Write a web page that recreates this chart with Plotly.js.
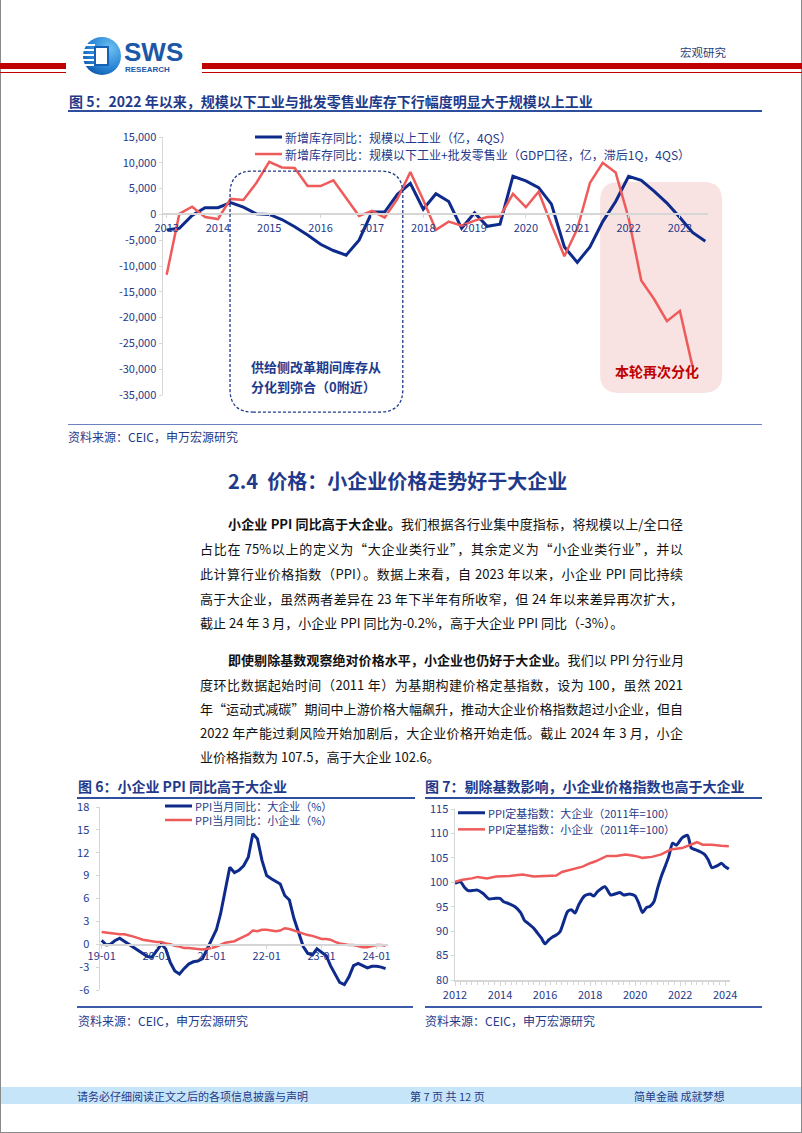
<!DOCTYPE html>
<html><head><meta charset="utf-8">
<script src="https://cdn.plot.ly/plotly-3.0.1.min.js"></script>
<style>
html,body{margin:0;padding:0;background:#fff;}
#page{position:relative;width:802px;height:1133px;overflow:hidden;background:#fff;font-family:'Noto Sans CJK SC','Noto Sans',sans-serif;}
.abs{position:absolute;white-space:nowrap;}
.bar{position:absolute;}
.ttl{position:absolute;white-space:nowrap;font-size:14px;font-weight:bold;color:#1F3A8A;line-height:18px;}
.src{position:absolute;white-space:nowrap;font-size:12px;color:#1F3A8A;line-height:16px;}
.pl{position:absolute;font-size:13px;color:#111;line-height:18px;text-align:justify;text-align-last:justify;}
.pl.last{text-align-last:left;white-space:nowrap;}
.ft{position:absolute;white-space:nowrap;font-size:11px;color:#1F3A8A;line-height:14px;}
.chart{position:absolute;}
</style></head>
<body>
<div id="page">
  <!-- page border -->
  <div class="bar" style="left:0;top:0;width:1px;height:1133px;background:#8a8a8a"></div>
  <div class="bar" style="left:801px;top:0;width:1px;height:1133px;background:#8a8a8a"></div>
  <div class="bar" style="left:0;top:1132px;width:802px;height:1px;background:#8a8a8a"></div>

  <!-- header -->
  <div class="bar" style="left:0;top:63px;width:66px;height:6px;background:#C00000"></div>
  <div class="bar" style="left:0;top:72px;width:66px;height:1px;background:#C00000"></div>
  <div class="bar" style="left:202px;top:63px;width:600px;height:6px;background:#C00000"></div>
  <div class="bar" style="left:202px;top:72px;width:600px;height:1px;background:#C00000"></div>
  <svg style="position:absolute;left:82px;top:35px" width="110" height="42">
    <defs>
      <radialGradient id="lg" cx="0.7" cy="0.3" r="0.85">
        <stop offset="0" stop-color="#6CC0F2"/><stop offset="0.6" stop-color="#2A86D6"/><stop offset="1" stop-color="#0C4FA6"/>
      </radialGradient>
    </defs>
    <circle cx="20" cy="21" r="19" fill="url(#lg)"/>
    <rect x="1" y="9" width="12" height="2" fill="#fff"/>
    <rect x="1" y="14" width="12" height="2" fill="#fff"/>
    <rect x="1" y="19" width="12" height="2" fill="#fff"/>
    <rect x="1" y="24" width="12" height="2" fill="#fff"/>
    <rect x="1" y="29" width="12" height="2" fill="#fff"/>
    <rect x="13" y="12" width="13" height="18" fill="#fff" stroke="#1660B5" stroke-width="2"/>
    <text x="42" y="26" font-size="26" font-weight="bold" fill="#1B58A8" font-family="Liberation Sans, Arial, sans-serif">SWS</text>
    <text x="43" y="37" font-size="8" font-weight="bold" fill="#1B58A8" font-family="Liberation Sans, Arial, sans-serif">RESEARCH</text>
  </svg>
  <div class="abs" style="left:680px;top:45px;font-size:11.5px;color:#2B3F7A;line-height:15px">宏观研究</div>

  <!-- figure 5 -->
  <div class="ttl" style="left:69px;top:92px">图 5：2022 年以来，规模以下工业与批发零售业库存下行幅度明显大于规模以上工业</div>
  <div class="bar" style="left:68px;top:110px;width:694px;height:1.5px;background:#2E4E9E"></div>
  <div id="c5" class="chart" style="left:60px;top:115px;width:690px;height:310px"></div>
  <div class="bar" style="left:68px;top:424px;width:694px;height:1px;background:#6C82C0"></div>
  <div class="src" style="left:68px;top:429px">资料来源：CEIC，申万宏源研究</div>

  <!-- section -->
  <div class="abs" style="left:228px;top:469px;font-size:20px;font-weight:bold;color:#1F3A8A;line-height:24px">2.4&nbsp;&nbsp;价格：小企业价格走势好于大企业</div>

  <div class="pl" style="left:228px;top:515px;width:455px"><b>小企业 PPI 同比高于大企业。</b>我们根据各行业集中度指标，将规模以上/全口径</div>
  <div class="pl" style="left:200px;top:540px;width:483px">占比在 75%以上的定义为“大企业类行业”，其余定义为“小企业类行业”，并以</div>
  <div class="pl" style="left:200px;top:565px;width:483px">此计算行业价格指数（PPI）。数据上来看，自 2023 年以来，小企业 PPI 同比持续</div>
  <div class="pl" style="left:200px;top:590px;width:483px">高于大企业，虽然两者差异在 23 年下半年有所收窄，但 24 年以来差异再次扩大，</div>
  <div class="pl last" style="left:200px;top:614px;width:483px">截止 24 年 3 月，小企业 PPI 同比为-0.2%，高于大企业 PPI 同比（-3%）。</div>

  <div class="pl" style="left:228px;top:651px;width:456px;letter-spacing:-0.3px"><b>即使剔除基数观察绝对价格水平，小企业也仍好于大企业。</b>我们以 PPI 分行业月</div>
  <div class="pl" style="left:200px;top:676px;width:483px">度环比数据起始时间（2011 年）为基期构建价格定基指数，设为 100，虽然 2021</div>
  <div class="pl" style="left:200px;top:700px;width:483px">年“运动式减碳”期间中上游价格大幅飙升，推动大企业价格指数超过小企业，但自</div>
  <div class="pl" style="left:200px;top:724px;width:483px">2022 年产能过剩风险开始加剧后，大企业价格开始走低。截止 2024 年 3 月，小企</div>
  <div class="pl last" style="left:200px;top:748px;width:483px">业价格指数为 107.5，高于大企业 102.6。</div>

  <!-- figure 6 -->
  <div class="ttl" style="left:78px;top:777px">图 6：小企业 PPI 同比高于大企业</div>
  <div class="bar" style="left:77px;top:797px;width:338px;height:1.5px;background:#2E4E9E"></div>
  <div id="c6" class="chart" style="left:60px;top:795px;width:340px;height:210px"></div>
  <div class="bar" style="left:77px;top:1006px;width:336px;height:1.5px;background:#3D5BA9"></div>
  <div class="src" style="left:78px;top:1013px">资料来源：CEIC，申万宏源研究</div>

  <!-- figure 7 -->
  <div class="ttl" style="left:425px;top:777px">图 7：剔除基数影响，小企业价格指数也高于大企业</div>
  <div class="bar" style="left:425px;top:797px;width:337px;height:1.5px;background:#2E4E9E"></div>
  <div id="c7" class="chart" style="left:410px;top:795px;width:350px;height:210px"></div>
  <div class="bar" style="left:425px;top:1006px;width:337px;height:1.5px;background:#3D5BA9"></div>
  <div class="src" style="left:425px;top:1013px">资料来源：CEIC，申万宏源研究</div>

  <!-- footer -->
  <div class="bar" style="left:1px;top:1087px;width:800px;height:17px;background:#C7E5F8"></div>
  <div class="ft" style="left:77px;top:1089px">请务必仔细阅读正文之后的各项信息披露与声明</div>
  <div class="ft" style="left:410px;top:1089px">第 7 页 共 12 页</div>
  <div class="ft" style="left:634px;top:1089px">简单金融 成就梦想</div>
</div>

<script>
// ---------------- Figure 5 data (quarterly, 4QS) ----------------
const c5Quarters = ['2013-01-01','2013-04-01','2013-07-01','2013-10-01',
  '2014-01-01','2014-04-01','2014-07-01','2014-10-01',
  '2015-01-01','2015-04-01','2015-07-01','2015-10-01',
  '2016-01-01','2016-04-01','2016-07-01','2016-10-01',
  '2017-01-01','2017-04-01','2017-07-01','2017-10-01',
  '2018-01-01','2018-04-01','2018-07-01','2018-10-01',
  '2019-01-01','2019-04-01','2019-07-01','2019-10-01',
  '2020-01-01','2020-04-01','2020-07-01','2020-10-01',
  '2021-01-01','2021-04-01','2021-07-01','2021-10-01',
  '2022-01-01','2022-04-01','2022-07-01','2022-10-01',
  '2023-01-01','2023-04-01','2023-07-01'];
const c5AboveScale = [-3000,-2700,-200,1300,
  1300,2300,1400,100,
  0,-1000,-2400,-4000,
  -5800,-7000,-7900,-5000,
  450,450,3900,6000,
  1000,4000,2500,-2700,
  300,-2300,-1900,7400,
  6500,5200,2000,-6300,
  -9300,-6300,-1400,2500,
  7400,6600,4500,2200,
  -600,-3500,-5200];
const c5BelowScale = [-11700,100,1500,-500,
  -900,3000,2800,6100,
  10200,9100,9000,5500,
  5500,6600,3200,-300,
  700,-600,3000,8200,
  2800,-3000,-1400,-2200,
  -1200,-500,-400,4000,
  1400,4400,-2000,-8100,
  -2800,6100,10000,8100,
  -700,-12800,-16400,-20700,
  -18700,-29500];
const c5Names = ['新增库存同比：规模以上工业（亿，4QS）','新增库存同比：规模以下工业+批发零售业（GDP口径，亿，滞后1Q，4QS）'];
const c5YTickVals = [15000,10000,5000,0,-5000,-10000,-15000,-20000,-25000,-30000,-35000];
const c5YTickText = ['15,000','10,000','5,000','0','-5,000','-10,000','-15,000','-20,000','-25,000','-30,000','-35,000'];

// ---------------- Figure 6 data (monthly YoY %) ----------------
const c6Months = ['2019-01','2019-02','2019-03','2019-04','2019-05','2019-06','2019-07','2019-08','2019-09','2019-10','2019-11','2019-12',
  '2020-01','2020-02','2020-03','2020-04','2020-05','2020-06','2020-07','2020-08','2020-09','2020-10','2020-11','2020-12',
  '2021-01','2021-02','2021-03','2021-04','2021-05','2021-06','2021-07','2021-08','2021-09','2021-10','2021-11','2021-12',
  '2022-01','2022-02','2022-03','2022-04','2022-05','2022-06','2022-07','2022-08','2022-09','2022-10','2022-11','2022-12',
  '2023-01','2023-02','2023-03','2023-04','2023-05','2023-06','2023-07','2023-08','2023-09','2023-10','2023-11','2023-12',
  '2024-01','2024-02','2024-03'];
const c6Large = [0.5,-0.1,0.0,0.5,0.8,0.4,0.0,-0.4,-0.8,-1.2,-1.6,-1.7,
  -0.8,0.0,-0.6,-2.4,-3.5,-3.9,-3.2,-2.6,-2.3,-2.2,-1.9,-0.6,
  0.6,1.9,4.0,7.0,10.1,9.4,9.7,10.3,11.4,14.5,13.8,11.0,
  9.0,8.6,8.3,7.9,6.4,5.8,3.4,1.4,-0.3,-1.2,-1.4,-0.6,
  -1.0,-1.5,-2.8,-4.0,-5.0,-5.3,-4.3,-2.8,-2.5,-2.8,-3.1,-2.9,
  -2.9,-3.0,-3.2];
const c6Small = [1.6,1.5,1.4,1.3,1.3,1.3,1.2,1.0,0.8,0.6,0.5,0.4,
  0.3,0.3,0.1,0.0,-0.2,-0.3,-0.5,-0.5,-0.6,-0.7,-0.7,-0.6,
  -0.5,-0.3,-0.1,0.2,0.3,0.4,0.7,1.0,1.3,1.8,1.7,1.9,
  1.9,1.8,1.7,1.8,2.1,2.0,1.8,1.6,1.4,1.2,1.1,0.9,
  0.7,0.7,0.6,0.3,0.1,0.0,-0.1,-0.1,-0.3,-0.4,-0.4,-0.3,
  -0.1,-0.1,-0.2];
const c6Names = ['PPI当月同比：大企业（%）','PPI当月同比：小企业（%）'];
const c6YTickVals = [18,15,12,9,6,3,0,-3,-6];
const c6YTickText = ['18','15','12','9','6','3','0','-3','-6'];

// ---------------- Figure 7 data (fixed-base index, 2011=100) ----------------
const c7LargeDates = ['2012-01','2012-04','2012-06','2012-08','2012-10','2013-01','2013-04','2013-07','2013-10',
  '2014-01','2014-03','2014-06','2014-09','2014-12','2015-02','2015-04','2015-07','2015-09','2015-11',
  '2016-01','2016-03','2016-05','2016-07','2016-09','2016-11','2017-01','2017-03','2017-05','2017-07','2017-10',
  '2018-01','2018-03','2018-05','2018-09','2018-12','2019-03','2019-05','2019-07','2019-10',
  '2020-01','2020-03','2020-05','2020-07','2020-09','2020-11','2021-01','2021-03','2021-05','2021-07','2021-09','2021-11',
  '2022-02','2022-05','2022-07','2022-09','2022-12','2023-02','2023-04','2023-06','2023-09','2023-11','2024-01','2024-03'];
const c7Large = [99.8,100.1,99.0,98.3,98.3,98.4,97.7,96.6,96.7,
  96.7,96.0,95.6,95.0,93.8,92.2,91.6,90.6,89.6,88.6,
  87.4,88.2,88.8,89.2,89.9,92.0,94.0,94.4,93.7,95.4,97.2,
  97.6,97.2,98.1,99.1,97.4,97.7,97.9,97.4,97.6,
  97.2,95.7,93.8,94.8,95.1,96.0,98.8,101.2,103.2,105.3,108.0,107.6,
  109.1,109.6,107.0,106.7,106.2,105.7,104.6,103.0,103.4,103.9,103.2,102.7];
const c7SmallDates = ['2012-01','2012-05','2012-10','2013-01','2013-06','2013-11','2014-06','2015-01','2015-07',
  '2016-01','2016-07','2016-10','2017-03','2017-09','2018-01','2018-04','2018-10','2019-03','2019-08',
  '2020-01','2020-05','2020-10','2021-03','2021-08','2022-02','2022-06','2022-10','2023-01','2023-06','2023-11','2024-03'];
const c7Small = [100.1,100.5,100.8,101.1,100.8,101.2,101.3,101.6,101.2,
  101.3,101.4,102.1,102.6,103.2,103.9,104.3,105.4,105.4,105.7,
  105.4,105.0,105.2,105.7,106.7,107.0,107.6,108.2,107.7,107.7,107.5,107.4];
const c7Names = ['PPI定基指数：大企业（2011年=100）','PPI定基指数：小企业（2011年=100）'];
const c7YTickVals = [115,110,105,100,95,90,85,80];

// ---------------- styles ----------------
const FONT = "'Noto Sans CJK SC','Noto Sans',sans-serif";
const BLUE = '#0E2B8C';
const RED = '#EF5A5A';
const TXT = '#1F3A8A';
const AX = '#D6D6D6';
const cfg = {staticPlot: true, displayModeBar: false};

function roundRect(x0, y0, x1, y1, rx, ry) {
  return 'M' + (x0 + rx) + ',' + y0 + ' L' + (x1 - rx) + ',' + y0 +
    ' Q' + x1 + ',' + y0 + ' ' + x1 + ',' + (y0 + ry) +
    ' L' + x1 + ',' + (y1 - ry) +
    ' Q' + x1 + ',' + y1 + ' ' + (x1 - rx) + ',' + y1 +
    ' L' + (x0 + rx) + ',' + y1 +
    ' Q' + x0 + ',' + y1 + ' ' + x0 + ',' + (y1 - ry) +
    ' L' + x0 + ',' + (y0 + ry) +
    ' Q' + x0 + ',' + y0 + ' ' + (x0 + rx) + ',' + y0 + ' Z';
}

// manual legend: a short line sample (shape) and a text (annotation) per series, in paper coords
function legendItems(names, colors, widths, lx0, lx1, tx, ys, fsize) {
  const shapes = [], ann = [];
  names.forEach((n, i) => {
    shapes.push({type: 'line', xref: 'paper', yref: 'paper', x0: lx0, x1: lx1, y0: ys[i], y1: ys[i],
      line: {color: colors[i], width: widths[i]}});
    ann.push({xref: 'paper', yref: 'paper', x: tx, y: ys[i], xanchor: 'left', yanchor: 'middle',
      showarrow: false, text: n, font: {size: fsize, color: TXT}});
  });
  return {shapes, ann};
}

// ---------------- Figure 5 ----------------
const lg5 = legendItems(c5Names, [BLUE, RED], [3, 2.5], 0.1688, 0.2183, 0.2202, [1.0, 0.934], 12);
Plotly.newPlot('c5', [
  {x: c5Quarters, y: c5AboveScale, name: c5Names[0], type: 'scatter', mode: 'lines', line: {color: BLUE, width: 3}},
  {x: c5Quarters.slice(0, c5BelowScale.length), y: c5BelowScale, name: c5Names[1], type: 'scatter', mode: 'lines', line: {color: RED, width: 2.5}}
], {
  width: 690, height: 310,
  margin: {l: 103, r: 42, t: 22, b: 30, pad: 0, autoexpand: false},
  paper_bgcolor: 'rgba(0,0,0,0)', plot_bgcolor: 'rgba(0,0,0,0)',
  font: {family: FONT, size: 11, color: TXT},
  showlegend: false,
  xaxis: {type: 'date', range: ['2012-12-06', '2023-07-20'], anchor: 'free', position: 0.7,
    showline: true, linecolor: AX, linewidth: 2, ticks: 'outside', ticklen: 3, tickcolor: AX,
    dtick: 'M12', tick0: '2013-01-01', tickformat: '%Y', showgrid: false, zeroline: false,
    tickfont: {size: 11, color: TXT}},
  yaxis: {range: [-35000, 15000], tickvals: c5YTickVals, ticktext: c5YTickText,
    showline: true, linecolor: AX, linewidth: 1.5, ticks: 'outside', ticklen: 3, tickcolor: AX,
    showgrid: false, zeroline: false, tickfont: {size: 11, color: TXT}},
  shapes: [
    {type: 'path', xref: 'paper', yref: 'paper', layer: 'below',
      path: roundRect(0.802, 0.008, 1.026, 0.826, 0.034, 0.072),
      fillcolor: 'rgba(232,150,150,0.28)', line: {width: 0}},
    {type: 'path', xref: 'paper', yref: 'paper', layer: 'above',
      path: roundRect(0.123, -0.066, 0.440, 0.868, 0.042, 0.088),
      fillcolor: 'rgba(0,0,0,0)', line: {color: '#1F3A8A', width: 1.3, dash: '3px,2px'}}
  ].concat(lg5.shapes),
  annotations: [
    {xref: 'paper', yref: 'paper', x: 0.158, y: 0.112, xanchor: 'left', yanchor: 'middle', showarrow: false,
      text: '<b>供给侧改革期间库存从</b>', font: {size: 13, color: '#1F3A8A'}},
    {xref: 'paper', yref: 'paper', x: 0.158, y: 0.033, xanchor: 'left', yanchor: 'middle', showarrow: false,
      text: '<b>分化到弥合（0附近）</b>', font: {size: 13, color: '#1F3A8A'}},
    {xref: 'paper', yref: 'paper', x: 0.906, y: 0.093, xanchor: 'center', yanchor: 'middle', showarrow: false,
      text: '<b>本轮再次分化</b>', font: {size: 14, color: '#C00000'}}
  ].concat(lg5.ann)
}, cfg);

// ---------------- Figure 6 ----------------
const lg6 = legendItems(c6Names, [BLUE, RED], [3, 2.5], 0.2257, 0.3194, 0.3236, [1.0055, 0.929], 11);
Plotly.newPlot('c6', [
  {x: c6Months, y: c6Large, name: c6Names[0], type: 'scatter', mode: 'lines', line: {color: BLUE, width: 3}},
  {x: c6Months, y: c6Small, name: c6Names[1], type: 'scatter', mode: 'lines', line: {color: RED, width: 2.5}}
], {
  width: 340, height: 210,
  margin: {l: 40, r: 12, t: 12, b: 15, pad: 0, autoexpand: false},
  paper_bgcolor: 'rgba(0,0,0,0)', plot_bgcolor: 'rgba(0,0,0,0)',
  font: {family: FONT, size: 11, color: TXT},
  showlegend: false,
  xaxis: {type: 'date', range: ['2018-12-21', '2024-03-17'], anchor: 'free', position: 0.25,
    showline: true, linecolor: AX, linewidth: 1.5, ticks: 'outside', ticklen: 3, tickcolor: AX,
    dtick: 'M12', tick0: '2019-01-01', tickformat: '%y-%m', showgrid: false, zeroline: false,
    ticklabelstandoff: -2, tickfont: {size: 11, color: TXT}},
  yaxis: {range: [-6, 18], tickvals: c6YTickVals, ticktext: c6YTickText,
    showline: true, linecolor: AX, linewidth: 1.5, ticks: 'outside', ticklen: 3, tickcolor: AX,
    ticklabelstandoff: 4, showgrid: false, zeroline: false, tickfont: {size: 11, color: TXT}},
  shapes: lg6.shapes,
  annotations: lg6.ann
}, cfg);

// ---------------- Figure 7 ----------------
const lg7 = legendItems(c7Names, [BLUE, RED], [3, 2.5], 0.011, 0.109, 0.113, [0.978, 0.881], 11);
Plotly.newPlot('c7', [
  {x: c7LargeDates, y: c7Large, name: c7Names[0], type: 'scatter', mode: 'lines', line: {color: BLUE, width: 3, shape: 'spline', smoothing: 0.6}},
  {x: c7SmallDates, y: c7Small, name: c7Names[1], type: 'scatter', mode: 'lines', line: {color: RED, width: 2.5}}
], {
  width: 350, height: 210,
  margin: {l: 45, r: 30, t: 14, b: 25, pad: 0, autoexpand: false},
  paper_bgcolor: 'rgba(0,0,0,0)', plot_bgcolor: 'rgba(0,0,0,0)',
  font: {family: FONT, size: 11, color: TXT},
  showlegend: false,
  xaxis: {type: 'date', range: ['2012-01-01', '2024-03-20'],
    showline: true, linecolor: AX, linewidth: 1.5, ticks: 'outside', ticklen: 4, tickcolor: AX,
    dtick: 'M24', tick0: '2012-01-01', tickformat: '%Y', showgrid: false, zeroline: false,
    minor: {dtick: 'M3', ticks: 'outside', ticklen: 3, tickcolor: AX},
    tickfont: {size: 11, color: TXT}},
  yaxis: {range: [80, 115], tickvals: c7YTickVals,
    showline: true, linecolor: AX, linewidth: 1.5, ticks: 'outside', ticklen: 3, tickcolor: AX,
    showgrid: false, zeroline: false, tickfont: {size: 11, color: TXT}},
  shapes: lg7.shapes,
  annotations: lg7.ann
}, cfg);
</script>
</body></html>
